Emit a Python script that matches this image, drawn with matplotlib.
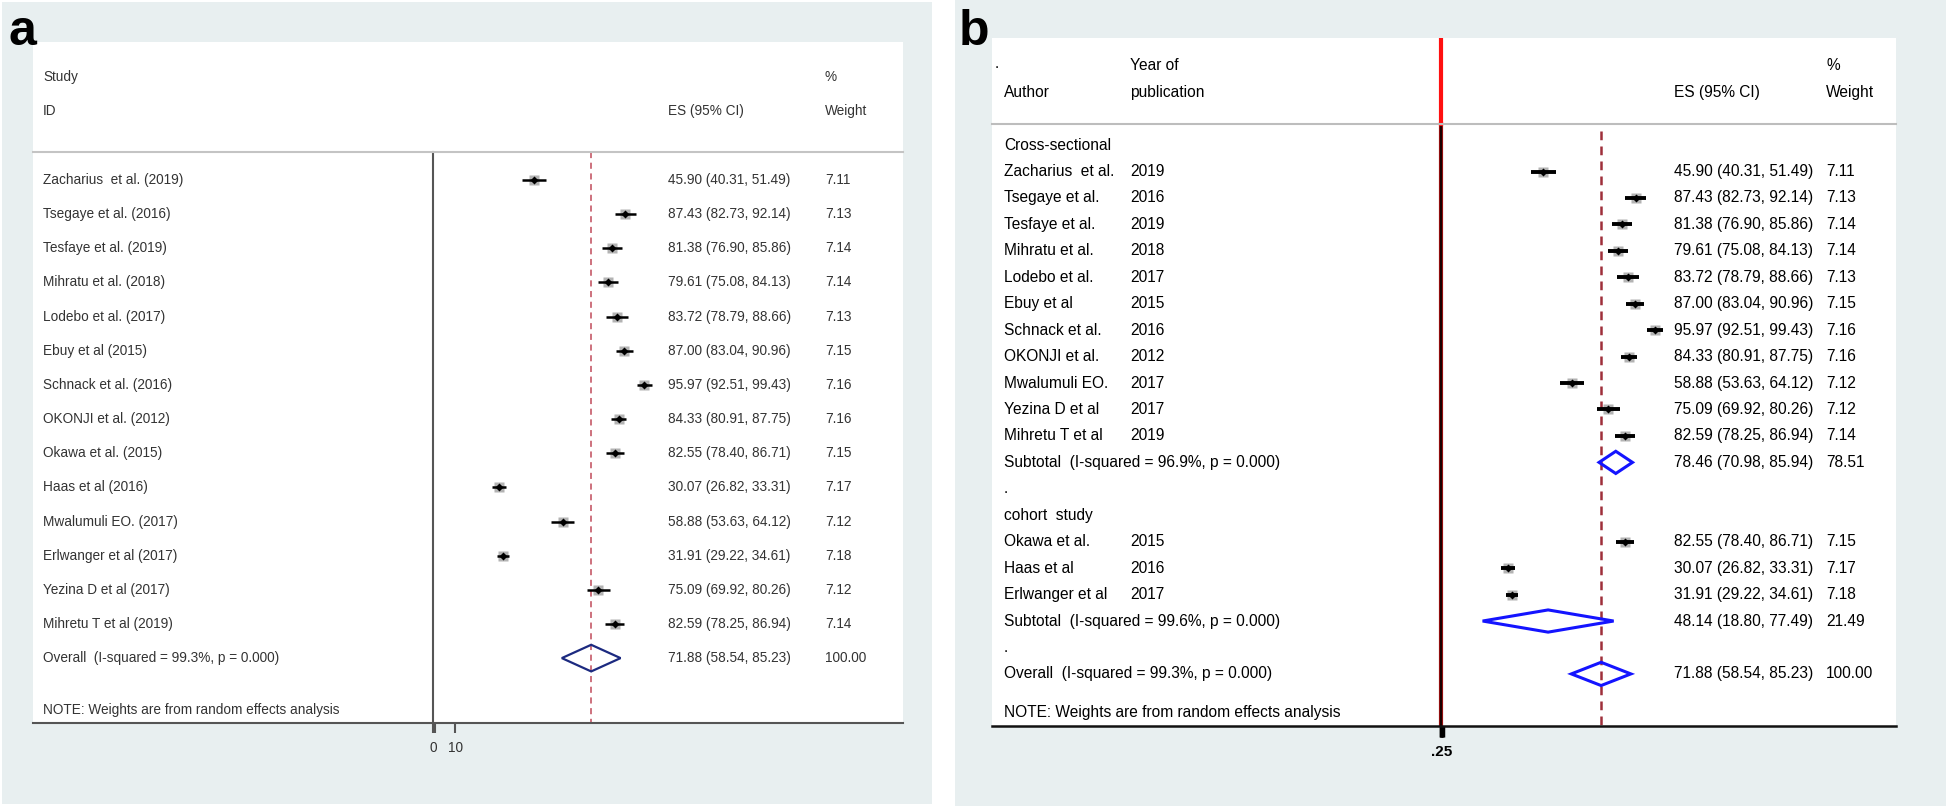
import matplotlib
matplotlib.use('Agg')
import matplotlib.pyplot as plt
from matplotlib.transforms import blended_transform_factory
from matplotlib.patches import Rectangle, Polygon

# study data (order of panel a)
authors = ["Zacharius  et al.", "Tsegaye et al.", "Tesfaye et al.", "Mihratu et al.",
           "Lodebo et al.", "Ebuy et al", "Schnack et al.", "OKONJI et al.",
           "Okawa et al.", "Haas et al", "Mwalumuli EO.", "Erlwanger et al",
           "Yezina D et al", "Mihretu T et al"]
years = [2019, 2016, 2019, 2018, 2017, 2015, 2016, 2012, 2015, 2016, 2017, 2017, 2017, 2019]
es = [45.90, 87.43, 81.38, 79.61, 83.72, 87.00, 95.97, 84.33, 82.55, 30.07, 58.88, 31.91, 75.09, 82.59]
lo = [40.31, 82.73, 76.90, 75.08, 78.79, 83.04, 92.51, 80.91, 78.40, 26.82, 53.63, 29.22, 69.92, 78.25]
hi = [51.49, 92.14, 85.86, 84.13, 88.66, 90.96, 99.43, 87.75, 86.71, 33.31, 64.12, 34.61, 80.26, 86.94]
weights = [7.11, 7.13, 7.14, 7.14, 7.13, 7.15, 7.16, 7.16, 7.15, 7.17, 7.12, 7.18, 7.12, 7.14]
design = ["cs", "cs", "cs", "cs", "cs", "cs", "cs", "cs", "cohort", "cohort", "cs", "cohort", "cs", "cs"]

# pooled estimates
groups = ["cs", "cohort"]
group_titles = ["Cross-sectional", "cohort  study"]
sub_text = ["Subtotal  (I-squared = 96.9%, p = 0.000)", "Subtotal  (I-squared = 99.6%, p = 0.000)"]
sub_es = [78.46, 48.14]
sub_lo = [70.98, 18.80]
sub_hi = [85.94, 77.49]
sub_w = [78.51, 21.49]
overall_es, overall_lo, overall_hi = 71.88, 58.54, 85.23
overall_text = "Overall  (I-squared = 99.3%, p = 0.000)"
note = "NOTE: Weights are from random effects analysis"

plt.rcParams['font.family'] = ['Liberation Sans', 'DejaVu Sans']

W, H = 1946, 806
fig = plt.figure(figsize=(W / 100, H / 100), dpi=100)
fig.patch.set_facecolor('white')
bg = '#e8eff0'
fig.add_artist(Rectangle((2 / W, 1 - 804 / H), 930 / W, 802 / H, transform=fig.transFigure,
                         facecolor=bg, edgecolor='none', zorder=-5))
fig.add_artist(Rectangle((955 / W, 0), 991 / W, 1, transform=fig.transFigure,
                         facecolor=bg, edgecolor='none', zorder=-5))
fig.text(8 / W, 1 - 45 / H, 'a', fontsize=36, fontweight='bold', ha='left', va='baseline')
fig.text(959 / W, 1 - 45 / H, 'b', fontsize=36, fontweight='bold', ha='left', va='baseline')


def study_marker(ax, y, e, l, h, lw):
    ax.plot([l, h], [y, y], color='black', lw=lw, solid_capstyle='butt', zorder=3)
    ax.plot(e, y, marker='s', ms=7.5, color='#b3b3b3', mec='none', zorder=2)
    ax.plot(e, y, marker='D', ms=4.5, color='black', mec='none', zorder=4)


def diamond(ax, y, e, l, h, half, color, lw):
    ax.add_patch(Polygon([(l, y), (e, y - half), (h, y), (e, y + half)], closed=True,
                         fill=False, edgecolor=color, lw=lw, zorder=3))


# ---------- panel a ----------
axa = fig.add_axes([33 / W, 1 - 723 / H, 870 / W, 681 / H])
axa.set_xlim(-181.8, 213.6)
axa.set_ylim(15.9, -4.04)
tra = blended_transform_factory(axa.transAxes, axa.transData)
ca = '#333333'
fs_a = 9.8
ta = dict(transform=tra, va='center', fontsize=fs_a, color=ca)
xa_lab, xa_es, xa_w = 0.0115, 0.7299, 0.9103

axa.text(xa_lab, -3.02, 'Study', **ta)
axa.text(xa_lab, -2.02, 'ID', **ta)
axa.text(xa_es, -2.02, 'ES (95% CI)', **ta)
axa.text(xa_w, -3.02, '%', **ta)
axa.text(xa_w, -2.02, 'Weight', **ta)
axa.plot([0, 1], [-0.82, -0.82], transform=tra, color='#c4c4c4', lw=1.5, clip_on=False)

for i in range(len(authors)):
    study_marker(axa, i, es[i], lo[i], hi[i], 1.8)
    axa.text(xa_lab, i, f"{authors[i]} ({years[i]})", **ta)
    axa.text(xa_es, i, f"{es[i]:.2f} ({lo[i]:.2f}, {hi[i]:.2f})", **ta)
    axa.text(xa_w, i, f"{weights[i]:.2f}", **ta)

ro = len(authors)
diamond(axa, ro, overall_es, overall_lo, overall_hi, 0.39, '#1c2a80', 1.6)
axa.text(xa_lab, ro, overall_text, **ta)
axa.text(xa_es, ro, f"{overall_es:.2f} ({overall_lo:.2f}, {overall_hi:.2f})", **ta)
axa.text(xa_w, ro, "100.00", **ta)
axa.text(xa_lab, ro + 1.52, note, **ta)

axa.plot([0, 0], [-0.82, 15.9], color='#555555', lw=1.5, zorder=1)
axa.plot([overall_es, overall_es], [-0.82, 15.9], color='#c04a5a', lw=1.1, dashes=(4, 3), zorder=1)
for s in ['top', 'right', 'left']:
    axa.spines[s].set_visible(False)
axa.spines['bottom'].set_color('#555555')
axa.spines['bottom'].set_linewidth(1.5)
axa.set_yticks([])
axa.set_xticks([0, 1, 10])
axa.set_xticklabels(['0', '', '10'], fontsize=fs_a, color=ca)
axa.tick_params(axis='x', length=7, width=1.5, color='#555555', pad=6)

# ---------- panel b ----------
axb = fig.add_axes([992 / W, 1 - 726 / H, 904 / W, 688 / H])
axb.set_xlim(-201, 204)
axb.set_ylim(21.97, -4.05)
trb = blended_transform_factory(axb.transAxes, axb.transData)
tb = dict(transform=trb, va='center', fontsize=11.2, color='black')
xb_auth, xb_year, xb_es, xb_w = 0.0133, 0.1527, 0.7544, 0.9226

axb.text(0.003, -3.1, '.', **tb)
axb.text(xb_year, -3.02, 'Year of', **tb)
axb.text(xb_auth, -2.0, 'Author', **tb)
axb.text(xb_year, -2.0, 'publication', **tb)
axb.text(xb_es, -2.0, 'ES (95% CI)', **tb)
axb.text(xb_w, -3.02, '%', **tb)
axb.text(xb_w, -2.0, 'Weight', **tb)
axb.plot([0, 1], [-0.79, -0.79], transform=trb, color='#bdbdbd', lw=1.5, clip_on=False, zorder=4)

r = 0
for g in range(len(groups)):
    axb.text(xb_auth, r, group_titles[g], **tb)
    r += 1
    for i in range(len(authors)):
        if design[i] != groups[g]:
            continue
        study_marker(axb, r, es[i], lo[i], hi[i], 2.8)
        axb.text(xb_auth, r, authors[i], **tb)
        axb.text(xb_year, r, str(years[i]), **tb)
        axb.text(xb_es, r, f"{es[i]:.2f} ({lo[i]:.2f}, {hi[i]:.2f})", **tb)
        axb.text(xb_w, r, f"{weights[i]:.2f}", **tb)
        r += 1
    diamond(axb, r, sub_es[g], sub_lo[g], sub_hi[g], 0.42, '#1414ff', 2.2)
    axb.text(xb_auth, r, sub_text[g], **tb)
    axb.text(xb_es, r, f"{sub_es[g]:.2f} ({sub_lo[g]:.2f}, {sub_hi[g]:.2f})", **tb)
    axb.text(xb_w, r, f"{sub_w[g]:.2f}", **tb)
    r += 1
    axb.text(xb_auth, r, '.', **tb)
    r += 1

diamond(axb, r, overall_es, overall_lo, overall_hi, 0.44, '#1414ff', 2.2)
axb.text(xb_auth, r, overall_text, **tb)
axb.text(xb_es, r, f"{overall_es:.2f} ({overall_lo:.2f}, {overall_hi:.2f})", **tb)
axb.text(xb_w, r, "100.00", **tb)
axb.text(xb_auth, r + 1.47, note, **tb)

axb.plot([0, 0], [-4.05, -0.79], color='#ff1010', lw=3, zorder=2)
axb.plot([0, 0], [-0.79, 21.97], color='#a01010', lw=3, zorder=1)
axb.plot([0, 0], [-0.79, 21.97], color='#1a0000', lw=1.6, zorder=1)
axb.plot([overall_es, overall_es], [-0.55, 21.97], color='#9e2f3a', lw=1.8, dashes=(3.5, 2.5), zorder=1)
for s in ['top', 'right', 'left']:
    axb.spines[s].set_visible(False)
axb.spines['bottom'].set_color('#111111')
axb.spines['bottom'].set_linewidth(1.8)
axb.set_yticks([])
axb.set_xticks([0.1, 0.25, 0.5, 1])
axb.set_xticklabels(['', '.25', '', ''], fontsize=11, color='black', fontweight='bold')
axb.tick_params(axis='x', length=8, width=2.5, color='black', pad=6)

fig.savefig('out.png', dpi=100)
